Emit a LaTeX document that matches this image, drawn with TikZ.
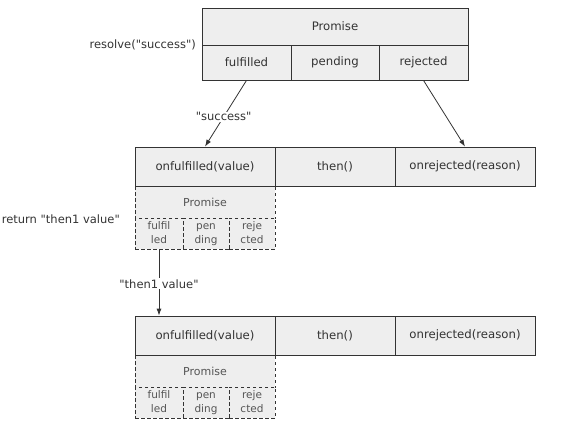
\documentclass[tikz,border=0pt]{standalone}
\usepackage{fontspec}
\setmainfont{DejaVu Sans}[Ligatures=TeXOff]
\usetikzlibrary{arrows.meta,calc}
\definecolor{cellfill}{HTML}{EEEEEE}
\definecolor{linec}{HTML}{333333}
\definecolor{txt}{HTML}{333333}
\definecolor{txtl}{HTML}{555555}
\newcommand{\twol}[2]{\strut #1\\\strut #2}
\begin{document}
\begin{tikzpicture}[x=1pt,y=-1pt,
  cell/.style={draw=linec,fill=cellfill,line width=0.8pt,inner sep=0pt,
    font=\fontsize{11.7}{13}\selectfont,text=txt},
  dcell/.style={draw=linec,fill=cellfill,line width=0.8pt,dash pattern=on 3.5pt off 2.5pt,
    inner sep=0pt,text=txtl,align=center},
  subtxt/.style={font=\fontsize{10.5}{14}\selectfont},
  lbl/.style={font=\fontsize{11.5}{13}\selectfont,text=txt,inner sep=1pt},
  arr/.style={draw=linec,line width=0.8pt,-{Latex[length=7pt,width=5pt]}}
]
\useasboundingbox (0,0) rectangle (586,437);
% top promise
\node[cell,minimum width=266,minimum height=37] (p0) at (335,26.5) {Promise};
\node[cell,minimum width=89,minimum height=35] (ful0) at (246.5,62.5) {fulfilled};
\node[cell,minimum width=88,minimum height=35] (pen0) at (335,62.5) {pending};
\node[cell,minimum width=89,minimum height=35] (rej0) at (423.5,62.5) {rejected};
\node[lbl,anchor=east] (res) at (197,45) {resolve("success")};

% middle dashed promise
\node[dcell,minimum width=140,minimum height=32,font=\fontsize{11}{13}\selectfont] (p1) at (205,202) {Promise};
\node[dcell,minimum width=48,minimum height=31,subtxt] (f1) at (159,233.5) {\twol{fulfil}{led}};
\node[dcell,minimum width=46,minimum height=31,subtxt] (g1) at (206,233.5) {\twol{pen}{ding}};
\node[dcell,minimum width=46,minimum height=31,subtxt] (r1) at (252,233.5) {\twol{reje}{cted}};
% middle row
\node[cell,minimum width=140,minimum height=39] (onf1) at (205,166.5) {onfulfilled(value)};
\node[cell,minimum width=120,minimum height=39] (then1) at (335,166.5) {then()};
\node[cell,minimum width=140,minimum height=39] (onr1) at (465,166.5) {onrejected(reason)};
\node[lbl,anchor=east] (ret) at (121,219) {return "then1 value"};

% bottom dashed promise
\node[dcell,minimum width=140,minimum height=32,font=\fontsize{11}{13}\selectfont] (p2) at (205,371) {Promise};
\node[dcell,minimum width=48,minimum height=31,subtxt] (f2) at (159,402.5) {\twol{fulfil}{led}};
\node[dcell,minimum width=46,minimum height=31,subtxt] (g2) at (206,402.5) {\twol{pen}{ding}};
\node[dcell,minimum width=46,minimum height=31,subtxt] (r2) at (252,402.5) {\twol{reje}{cted}};
% bottom row
\node[cell,minimum width=140,minimum height=39] (onf2) at (205,335.5) {onfulfilled(value)};
\node[cell,minimum width=120,minimum height=39] (then2) at (335,335.5) {then()};
\node[cell,minimum width=140,minimum height=39] (onr2) at (465,335.5) {onrejected(reason)};

% arrows
\draw[arr] (ful0.south) -- node[lbl,fill=white,pos=0.55] {"success"} (onf1.north);
\draw[arr] (rej0.south) -- (onr1.north);
\draw[arr] (f1.south) -- node[lbl,fill=white,pos=0.52] {"then1 value"} (f1.south |- onf2.north);
\end{tikzpicture}
\end{document}
